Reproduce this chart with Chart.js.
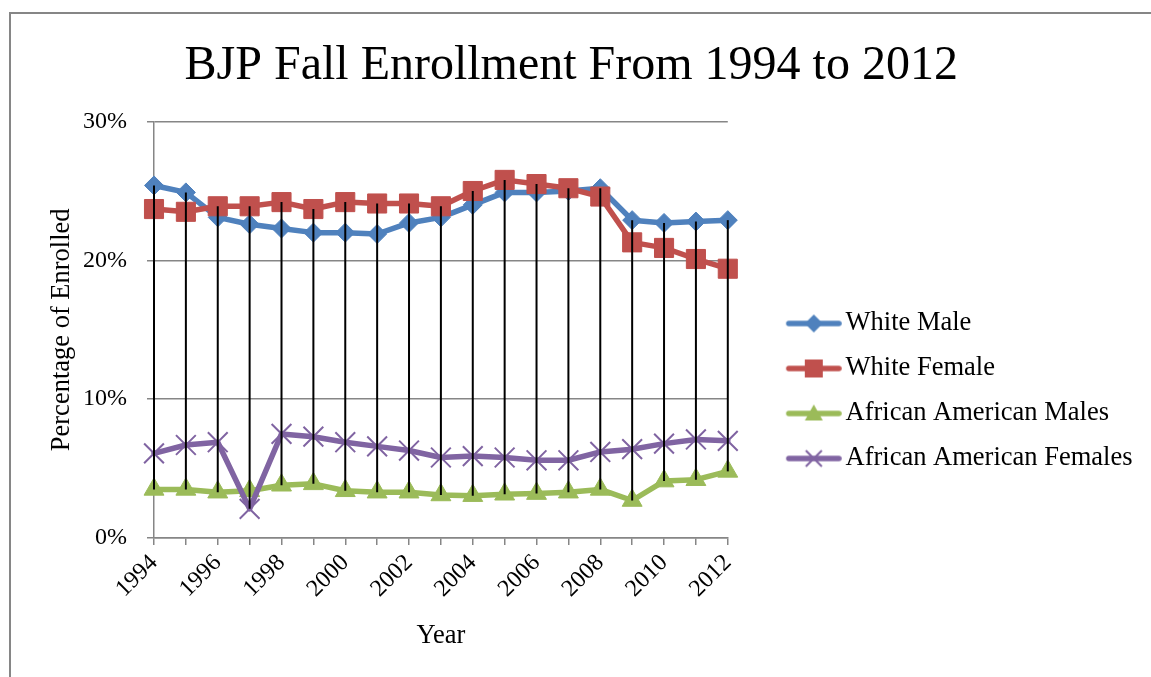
<!DOCTYPE html>
<html>
<head>
<meta charset="utf-8">
<script src="https://cdn.jsdelivr.net/npm/chart.js@4.4.0/dist/chart.umd.min.js"></script>
<style>
  html, body { margin: 0; padding: 0; background: #fff; overflow: hidden; width: 1151px; height: 677px; }
  #frame { position: absolute; left: 9px; top: 12px; width: 1200px; height: 720px; border: 2px solid #868686; }
  #wrap { position: absolute; left: 0; top: 0; width: 1151px; height: 677px; }
</style>
</head>
<body>
<div id="frame"></div>
<div id="wrap"><canvas id="chart"></canvas></div>
<script>
const years = ['1994', '1995', '1996', '1997', '1998', '1999', '2000', '2001', '2002', '2003',
               '2004', '2005', '2006', '2007', '2008', '2009', '2010', '2011', '2012'];
const whiteMale   = [25.4, 24.9, 23.1, 22.6, 22.3, 22.0, 22.0, 21.9, 22.7, 23.1, 24.0, 24.9, 24.9, 25.0, 25.2, 22.9, 22.7, 22.8, 22.9];
const whiteFemale = [23.7, 23.5, 23.9, 23.9, 24.2, 23.7, 24.2, 24.1, 24.1, 23.9, 25.0, 25.8, 25.5, 25.2, 24.6, 21.3, 20.9, 20.1, 19.4];
const aaMales     = [3.5, 3.5, 3.3, 3.4, 3.8, 3.9, 3.4, 3.3, 3.3, 3.1, 3.05, 3.15, 3.2, 3.3, 3.5, 2.7, 4.1, 4.2, 4.8];
const aaFemales   = [6.1, 6.7, 6.9, 2.1, 7.5, 7.3, 6.9, 6.6, 6.3, 5.8, 5.9, 5.8, 5.6, 5.6, 6.2, 6.4, 6.8, 7.1, 7.0];
const yMin = 0, yMax = 30, yStep = 10;

const serif = "'Liberation Serif', 'Times New Roman', serif";
Chart.defaults.font.family = serif;
Chart.defaults.color = '#000';

const gray = '#868686';

// legend icon: line with marker, like excel
function legendIcon(color, shape) {
  const c = document.createElement('canvas');
  c.width = 105; c.height = 28;
  const g = c.getContext('2d');
  g.strokeStyle = color; g.fillStyle = color;
  g.lineWidth = 5.5; g.lineCap = 'round';
  g.beginPath(); g.moveTo(52, 14); g.lineTo(102, 14); g.stroke();
  const cx = 77, cy = 14;
  g.beginPath();
  if (shape === 'rectRot') {
    g.moveTo(cx - 9, cy); g.lineTo(cx, cy - 9); g.lineTo(cx + 9, cy); g.lineTo(cx, cy + 9);
    g.closePath(); g.fill();
  } else if (shape === 'rect') {
    g.rect(cx - 9, cy - 9, 18, 18); g.fill();
  } else if (shape === 'triangle') {
    g.moveTo(cx, cy - 9); g.lineTo(cx + 9, cy + 7); g.lineTo(cx - 9, cy + 7);
    g.closePath(); g.fill();
  } else {
    g.lineWidth = 2; g.lineCap = 'butt';
    g.moveTo(cx - 8, cy - 8); g.lineTo(cx + 8, cy + 8);
    g.moveTo(cx + 8, cy - 8); g.lineTo(cx - 8, cy + 8);
    g.stroke();
  }
  return c;
}

function series(label, data, color, style, radius, order) {
  return {
    label: label,
    data: data,
    borderColor: color,
    backgroundColor: color,
    borderWidth: 5.5,
    borderJoinStyle: 'round',
    borderCapStyle: 'round',
    tension: 0,
    pointStyle: style,
    pointRadius: radius,
    pointBackgroundColor: color,
    pointBorderColor: color,
    pointBorderWidth: style === 'crossRot' ? 2 : 1,
    order: order
  };
}

const datasets = [
  series('White Male', whiteMale, '#4F81BD', 'rectRot', 9.5, 3),
  series('White Female', whiteFemale, '#C0504D', 'rect', 13.5, 2),
  series('African American Males', aaMales, '#9BBB59', 'triangle', 11.5, 1),
  series('African American Females', aaFemales, '#8064A2', 'crossRot', 14, 0)
];
const icons = datasets.map(ds => legendIcon(ds.borderColor, ds.pointStyle));

// excel high-low lines
const hiLowLines = {
  id: 'hiLowLines',
  afterDatasetsDraw(chart) {
    const ctx = chart.ctx;
    const x = chart.scales.x, y = chart.scales.y;
    ctx.save();
    ctx.strokeStyle = '#000';
    ctx.lineWidth = 2;
    years.forEach((yr, i) => {
      const vals = chart.data.datasets.map(ds => ds.data[i]);
      const px = x.getPixelForValue(i);
      ctx.beginPath();
      ctx.moveTo(px, y.getPixelForValue(Math.max(...vals)));
      ctx.lineTo(px, y.getPixelForValue(Math.min(...vals)));
      ctx.stroke();
    });
    ctx.restore();
  }
};

new Chart(document.getElementById('chart'), {
  type: 'line',
  data: { labels: years, datasets: datasets },
  plugins: [hiLowLines],
  options: {
    responsive: true,
    maintainAspectRatio: false,
    animation: false,
    layout: { padding: { left: 0, right: 8.5, top: 0, bottom: 0 } },
    scales: {
      x: {
        offset: false,
        afterFit: s => { s.height = 139; },
        grid: { drawOnChartArea: false, drawTicks: true, tickLength: 7, color: gray, lineWidth: 1.5 },
        border: { color: gray, width: 1.5 },
        ticks: {
          autoSkip: false, maxRotation: 45, minRotation: 45, padding: 4,
          font: { size: 24 }, color: '#000',
          callback: (v, i) => i % 2 === 0 ? years[i] : ''
        },
        title: { display: true, text: 'Year', font: { size: 26.5 }, color: '#000', padding: { top: 17, bottom: 25 } }
      },
      y: {
        min: yMin,
        max: yMax,
        afterFit: s => { s.width = 154; },
        ticks: { stepSize: yStep, padding: 20, font: { size: 24 }, color: '#000', callback: v => v + '%' },
        grid: { color: gray, lineWidth: 1.5, tickLength: 7 },
        border: { color: gray, width: 1.5 },
        title: { display: true, text: 'Percentage of Enrolled', font: { size: 26.5 }, color: '#000', padding: { top: 46, bottom: 5 } }
      }
    },
    plugins: {
      title: {
        display: true,
        text: 'BJP Fall Enrollment From 1994 to 2012',
        font: { size: 48, weight: 'normal' },
        color: '#000',
        padding: { top: 38, bottom: 26 }
      },
      legend: {
        position: 'right',
        align: 'center',
        maxWidth: 420,
        title: { display: true, text: ' ', padding: 46.5, font: { size: 10 } },
        labels: {
          usePointStyle: true,
          pointStyleWidth: 86,
          padding: 18.5,
          font: { size: 26.5 },
          color: '#000',
          generateLabels: chart => chart.data.datasets.map((ds, i) => ({
            text: ds.label,
            pointStyle: icons[i],
            fillStyle: ds.borderColor,
            strokeStyle: ds.borderColor,
            lineWidth: 0,
            hidden: false,
            datasetIndex: i
          }))
        }
      },
      tooltip: { enabled: false }
    }
  }
});
</script>
</body>
</html>
